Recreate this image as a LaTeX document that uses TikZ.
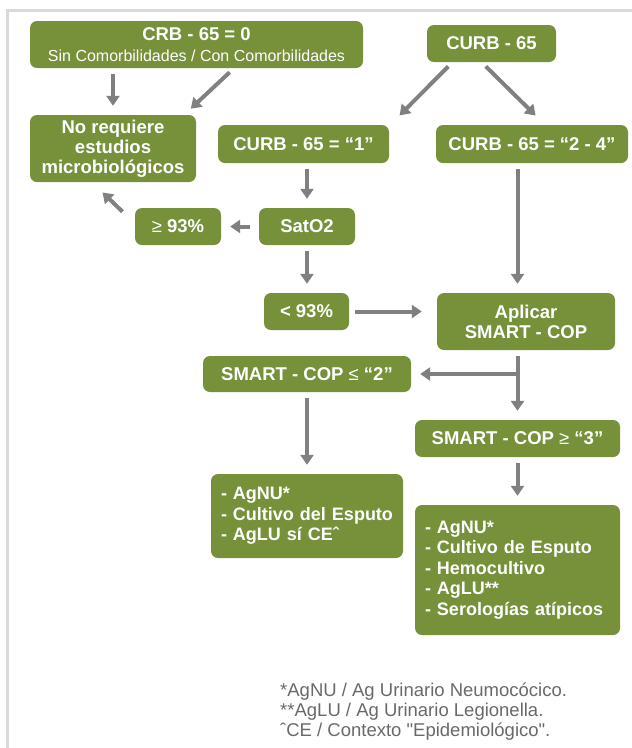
\documentclass[tikz,border=0pt]{standalone}
\usepackage{fontspec}
\setmainfont{Liberation Sans}[Ligatures=TeXOff]
\usetikzlibrary{arrows.meta}
\definecolor{boxgreen}{RGB}{118,145,58}
\definecolor{arrowgray}{RGB}{128,128,128}
\definecolor{framegray}{RGB}{218,218,218}
\definecolor{notegray}{RGB}{105,105,105}

\begin{document}
\begin{tikzpicture}[x=1pt, y=-1pt, >={Triangle[length=10pt,width=13pt]},
      box/.style={fill=boxgreen, rounded corners=7pt, text=white, align=center, inner sep=0pt,
        font=\bfseries\fontsize{18.5}{20}\selectfont},
      lst/.style={box, align=left, font=\bfseries\fontsize{18}{20.5}\selectfont},
      arr/.style={->, draw=arrowgray, line width=4pt, shorten <=6pt, shorten >=9pt}]
    \useasboundingbox (0,0) rectangle (632,748);
    \draw[framegray, line width=3pt] (7,748) -- (7,10) -- (632,10);
    % boxes
    \node[box, minimum width=333pt, minimum height=47pt] (crb) at (196.5,44.5)
      {CRB - 65 = 0\\[1.5pt]{\mdseries\fontsize{16}{18}\selectfont Sin Comorbilidades / Con Comorbilidades}};
    \node[box, minimum width=129pt, minimum height=37pt] (curb) at (491.5,43.5) {CURB - 65};
    \node[box, minimum width=166pt, minimum height=67pt] (noreq) at (113,148.5)
      {No requiere\\estudios\\microbiológicos};
    \node[box, minimum width=171pt, minimum height=38pt] (curb1) at (303.5,144) {CURB - 65 = “1”};
    \node[box, minimum width=192pt, minimum height=38pt] (curb24) at (532,144) {CURB - 65 = “2 - 4”};
    \node[box, minimum width=86pt, minimum height=37pt] (ge93) at (178,226.5) {{\mdseries ≥} 93\%};
    \node[box, minimum width=96pt, minimum height=37pt] (sat) at (307,226.5) {SatO2};
    \node[box, minimum width=85pt, minimum height=37pt] (lt93) at (306.5,311.5) {< 93\%};
    \node[box, minimum width=178pt, minimum height=57pt] (aplicar) at (526,321.5) {Aplicar\\SMART - COP};
    \node[box, minimum width=208pt, minimum height=36pt] (le2) at (307,374) {SMART - COP {\mdseries ≤} “2”};
    \node[box, minimum width=205pt, minimum height=37pt] (ge3) at (517.5,438.5) {SMART - COP {\mdseries ≥} “3”};
    \node[lst, minimum width=192pt, minimum height=84pt, text width=172pt] (list1) at (307,516)
      {- AgNU*\\- Cultivo del Esputo\\- AgLU sí CEˆ};
    \node[lst, minimum width=205pt, minimum height=130pt, text width=185pt] (list2) at (517.5,570)
      {- AgNU*\\- Cultivo de Esputo\\- Hemocultivo\\- AgLU**\\- Serologías atípicos};
    \node[anchor=north west, align=left, inner sep=0pt, text=notegray,
      font=\fontsize{18.5}{20}\selectfont] (notes) at (280,683)
      {*AgNU / Ag Urinario Neumocócico.\\**AgLU / Ag Urinario Legionella.\\ˆCE / Contexto "Epidemiológico".};
    % connectors
    \draw[arr] (crb.south -| noreq) -- (noreq);
    \draw[arr] ([shift={(37.5,0)}]crb.south) -- ([shift={(-12,0)}]noreq.north east);
    \draw[arr] ([shift={(-39,0)}]curb.south) -- ([shift={(4,-3)}]curb1.north east);
    \draw[arr] ([shift={(-10,0)}]curb.south) -- ([shift={(10,-3)}]curb24.north);
    \draw[arr] (curb1.south -| sat) -- (sat);
    \draw[arr, shorten <=9pt] (sat) -- (ge93);
    \draw[arr] ([shift={(-8,8)}]ge93.north west) -- ([shift={(-17,4)}]noreq.south);
    \draw[arr] (sat.south) -- (sat.south |- lt93.north);
    \draw[arr] (curb24.south -| ge3) -- (aplicar.north -| ge3);
    \draw[arr, shorten >=15pt] (lt93) -- (lt93 -| aplicar.west);
    \draw[arr] (aplicar.south -| ge3) -- (ge3);
    \draw[arr, shorten <=0pt] (le2 -| ge3) -- (le2);
    \draw[arr] (le2.south) -- (le2.south |- list1.north);
    \draw[arr] (ge3) -- (list2);
  \end{tikzpicture}
\end{document}
